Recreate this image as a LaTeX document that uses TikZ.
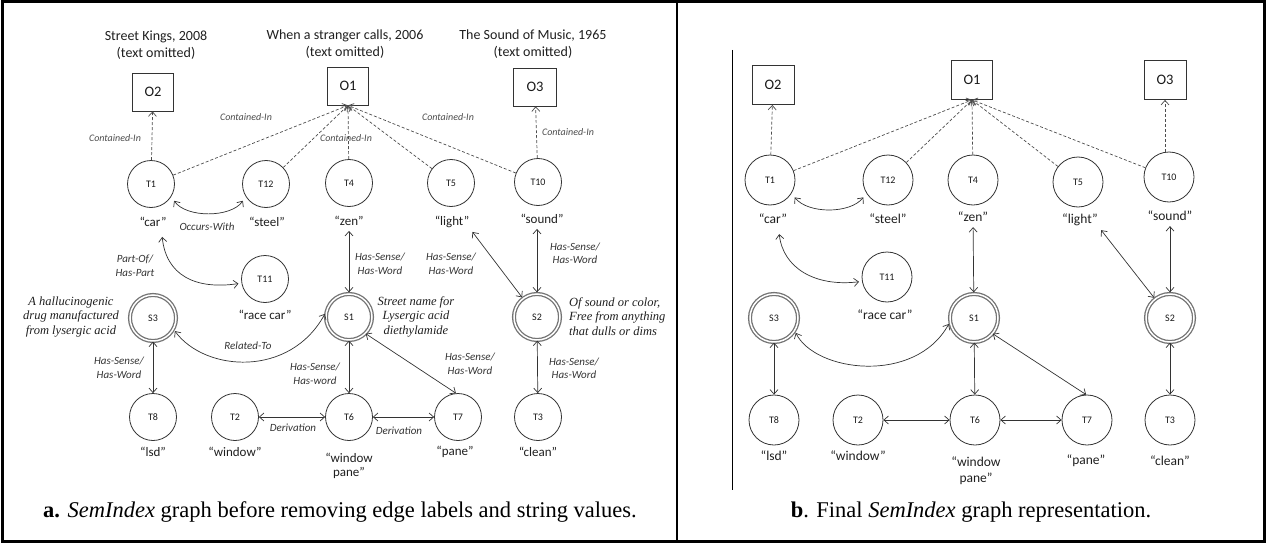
\documentclass[tikz,border=0pt]{standalone}
\usepackage{fontspec}
\setmainfont{Liberation Serif}
\newfontfamily\calib{Carlito}
\usetikzlibrary{arrows.meta}

\tikzset{
  lbl/.style={inner sep=0pt, text=black!88},
  term/.style={circle, draw=black!80, line width=0.8pt, minimum size=47pt, inner sep=0pt,
    font=\calib\fontsize{10}{12}\selectfont, text=black!90},
  termb/.style={term, minimum size=50pt},
  sense/.style={circle, draw=black!55, double=white, double distance=1.5pt, line width=1.3pt,
    minimum size=46pt, inner sep=0pt, font=\calib\fontsize{10}{12}\selectfont, text=black!90},
  senseb/.style={sense, minimum size=48pt},
  objbox/.style={rectangle, draw=black!80, line width=0.8pt, minimum width=41pt,
    minimum height=38pt, inner sep=0pt, font=\calib\fontsize{14.5}{16}\selectfont, text=black!90},
  word/.style={lbl, font=\calib\fontsize{13}{14.5}\selectfont, align=center},
  wordb/.style={lbl, font=\calib\fontsize{13.5}{15.5}\selectfont, align=center},
  heading/.style={lbl, font=\calib\fontsize{14}{17}\selectfont, align=center},
  rel/.style={lbl, font=\calib\itshape\fontsize{11}{13.5}\selectfont, align=center, text=black!80},
  cont/.style={lbl, font=\calib\itshape\fontsize{10}{12}\selectfont, text=black!70},
  gloss/.style={lbl, font=\itshape\fontsize{12.5}{14.5}\selectfont},
  caption/.style={lbl, font=\fontsize{22.5}{26}\selectfont, text=black},
  link/.style={draw=black!80, line width=0.7pt, <->},
  member/.style={draw=black!70, line width=0.7pt, dash pattern=on 3pt off 2pt, ->},
}

\begin{document}
\begin{tikzpicture}[x=1pt, y=-1pt, >={Straight Barb[length=4.5pt,width=8pt]}]
\useasboundingbox (0,0) rectangle (1266,543);

% table frame
\draw[line width=3pt] (2,2) rectangle (1264,541);
\draw[line width=2pt] (677,2) -- (677,541);

% ================= panel a =================
\node[heading] (c2) at (156,45) {Street Kings, 2008\\(text omitted)};
\node[heading] (c1) at (345,44) {When a stranger calls, 2006\\(text omitted)};
\node[heading] (c3) at (533,44) {The Sound of Music, 1965\\(text omitted)};

\node[objbox] (O2) at (153,92) {O2};
\node[objbox] (O1) at (348,86) {O1};
\node[objbox, minimum width=43pt] (O3) at (535,87) {O3};

\node[term] (T1)  at (151,184) {T1};
\node[term] (T12) at (266,184) {T12};
\node[term] (T4)  at (349,183) {T4};
\node[term] (T5)  at (451,183) {T5};
\node[term] (T10) at (538,182) {T10};
\node[term] (T11) at (265,279) {T11};
\node[sense] (S3) at (153,318) {S3};
\node[sense] (S1) at (349,317) {S1};
\node[sense] (S2) at (537,317) {S2};
\node[term] (T8) at (153,417) {T8};
\node[term] (T2) at (235,417) {T2};
\node[term] (T6) at (349,417) {T6};
\node[term] (T7) at (458,417) {T7};
\node[term] (T3) at (538,417) {T3};

\node[word] (w1)  at (153,222) {“car”};
\node[word] (w12) at (267,222) {“steel”};
\node[word] (w4)  at (349,221) {“zen”};
\node[word] (w5)  at (452,222) {“light”};
\node[word] (w10) at (542,219) {“sound”};
\node[word] (w11) at (265,315) {“race car”};
\node[word] (w8)  at (153,452) {“lsd”};
\node[word] (w2)  at (235,452) {“window”};
\node[word] (w6)  at (349,466) {“window\\pane”};
\node[word] (w7)  at (455,452) {“pane”};
\node[word] (w3)  at (538,452) {“clean”};

\node[gloss, align=center] (g3) at (71,317) {A hallucinogenic\\drug manufactured\\from lysergic acid};
\node[gloss, align=center] (g1) at (416,316.5) {Street name for\\Lysergic acid\\diethylamide};
\node[gloss, align=left, anchor=west] (g2) at (569,316.5) {Of sound or color,\\Free from anything\\that dulls or dims};

% membership of terms in objects
\draw[member] (T1) -- (O2);
\draw[member] (T1) -- (O1.south);
\draw[member] (T12) -- (O1.south);
\draw[member] (T4) -- (O1.south);
\draw[member] (T5) -- (O1.south);
\draw[member] (T10) -- (O1.south);
\draw[member] (T10) -- (O3);

\node[cont] (k1) at (115,138) {Contained-In};
\node[cont] (k2) at (246,117) {Contained-In};
\node[cont] (k3) at (346,138) {Contained-In};
\node[cont] (k4) at (448,117) {Contained-In};
\node[cont] (k5) at (568,132) {Contained-In};

% semantic links
\draw[link, shorten <=5pt, shorten >=5pt] (T1.-32) .. controls (186,218) and (231,218) .. (T12.-148);
\draw[link, shorten <=2pt, shorten >=3pt] ([shift={(9,8)}]w1.south) .. controls (166,275) and (195,290) .. (T11.190);
\draw[link, shorten <=2pt, shorten >=2pt] (S3.-29) .. controls (205,372) and (290,378) .. (S1.168);
\draw[link, shorten <=5pt, shorten >=1pt] (w4) -- (S1);
\draw[link, shorten <=5pt, shorten >=1pt] (w5.south east) -- (S2);
\draw[link, shorten <=5pt, shorten >=1pt] (w10.south -| S2) -- (S2);
\draw[link] (S3) -- (T8);
\draw[link] (S1) -- (T6);
\draw[link] (S1.-45) -- (T7.95);
\draw[link] (S2) -- (T3);
\draw[link] (T2) -- (T6);
\draw[link] (T6) -- (T7);

\node[rel] (r1) at (207,227) {Occurs-With};
\node[rel] (r2) at (135,266) {Part-Of/\\Has-Part};
\node[rel] (r3) at (248,346) {Related-To};
\node[rel] (r4) at (119,368) {Has-Sense/\\Has-Word};
\node[rel] (r5) at (380,264) {Has-Sense/\\Has-Word};
\node[rel] (r6) at (451,264) {Has-Sense/\\Has-Word};
\node[rel] (r7) at (575,253.5) {Has-Sense/\\Has-Word};
\node[rel] (r8) at (315,374) {Has-Sense/\\Has-word};
\node[rel] (r9) at (470,364) {Has-Sense/\\Has-Word};
\node[rel] (r10) at (574,368.5) {Has-Sense/\\Has-Word};
\node[rel] (r11) at (293,428) {Derivation};
\node[rel] (r12) at (399,431) {Derivation};

\node[caption] (capa) at (340,512) {\textbf{a.} \textit{SemIndex} graph before removing edge labels and string values.};

% ================= panel b =================
\draw[line width=0.8pt] (732,50) -- (732,490);

\node[objbox, minimum width=42pt, minimum height=39pt] (bO2) at (773,85) {O2};
\node[objbox, minimum height=39pt] (bO1) at (972,80) {O1};
\node[objbox, minimum width=42pt, minimum height=39pt] (bO3) at (1165,80) {O3};

\node[termb] (bT1)  at (770,180) {T1};
\node[termb] (bT12) at (888,180) {T12};
\node[termb] (bT4)  at (973,180) {T4};
\node[termb] (bT5)  at (1078,182) {T5};
\node[termb] (bT10) at (1169,177) {T10};
\node[termb] (bT11) at (887,277) {T11};
\node[senseb] (bS3) at (774,318) {S3};
\node[senseb] (bS1) at (974,318) {S1};
\node[senseb] (bS2) at (1170,318) {S2};
\node[termb] (bT8) at (774,420) {T8};
\node[termb] (bT2) at (858,420) {T2};
\node[termb] (bT6) at (975,420) {T6};
\node[termb] (bT7) at (1087,420) {T7};
\node[termb] (bT3) at (1170,420) {T3};

\node[wordb] (bw1)  at (773,219) {“car”};
\node[wordb] (bw12) at (888,219) {“steel”};
\node[wordb] (bw4)  at (973,217) {“zen”};
\node[wordb] (bw5)  at (1080,220) {“light”};
\node[wordb] (bw10) at (1170,216) {“sound”};
\node[wordb] (bw11) at (885,315) {“race car”};
\node[wordb] (bw8)  at (774,456) {“lsd”};
\node[wordb] (bw2)  at (858,456) {“window”};
\node[wordb] (bw6)  at (976,470.5) {“window\\pane”};
\node[wordb] (bw7)  at (1086,461) {“pane”};
\node[wordb] (bw3)  at (1170,461) {“clean”};

\draw[member] (bT1) -- (bO2);
\draw[member] (bT1) -- (bO1.south);
\draw[member] (bT12) -- (bO1.south);
\draw[member] (bT4) -- (bO1.south);
\draw[member] (bT5) -- (bO1.south);
\draw[member] (bT10) -- (bO1.south);
\draw[member] (bT10.north -| bO3) -- (bO3);

\draw[link, shorten <=5pt, shorten >=5pt] (bT1.-32) .. controls (808,214) and (850,214) .. (bT12.-148);
\draw[link, shorten <=2pt, shorten >=3pt] ([shift={(6,8)}]bw1.south) .. controls (783,268) and (815,287) .. (bT11.190);
\draw[link, shorten <=2pt, shorten >=2pt] (bS3.-32) .. controls (815,372) and (915,385) .. (bS1.190);
\draw[link, shorten <=5pt, shorten >=1pt] (bw4) -- (bS1);
\draw[link, shorten <=5pt, shorten >=1pt] (bw5.south east) -- (bS2);
\draw[link, shorten <=5pt, shorten >=1pt] (bw10) -- (bS2);
\draw[link] (bS3) -- (bT8);
\draw[link] (bS1) -- (bT6);
\draw[link] (bS1.-40) -- (bT7.92);
\draw[link] (bS2) -- (bT3);
\draw[link] (bT2) -- (bT6);
\draw[link] (bT6) -- (bT7);

\node[caption] (capb) at (971,512) {\textbf{b}. Final \textit{SemIndex} graph representation.};
\end{tikzpicture}
\end{document}
